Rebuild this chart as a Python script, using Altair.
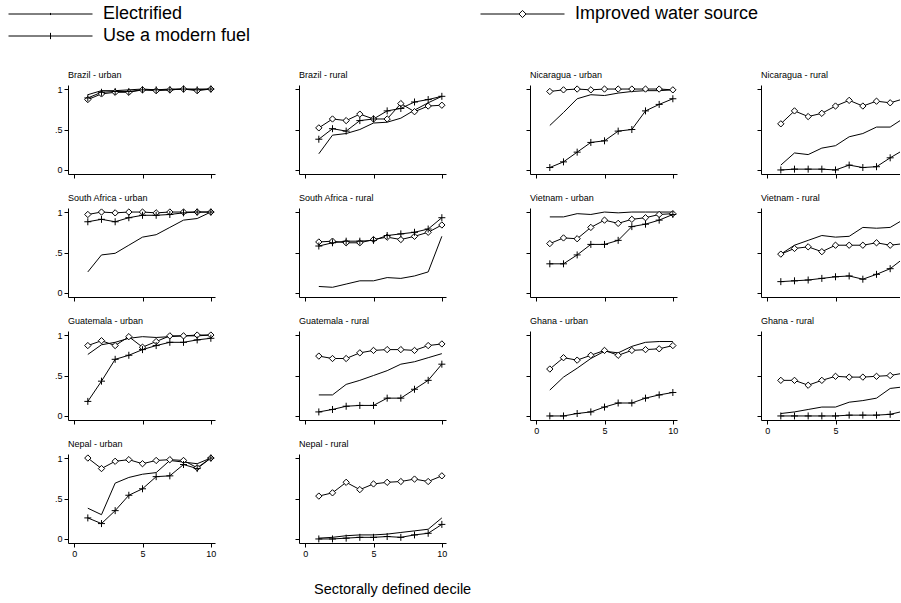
import altair as alt
import pandas as pd

deciles = list(range(1, 11))
series = ["Electrified", "Use a modern fuel", "Improved water source"]
legend_order = ["Electrified", "Improved water source", "Use a modern fuel"]

panel_order = [
    "Brazil - urban", "Brazil - rural", "Nicaragua - urban", "Nicaragua - rural",
    "South Africa - urban", "South Africa - rural", "Vietnam - urban", "Vietnam - rural",
    "Guatemala - urban", "Guatemala - rural", "Ghana - urban", "Ghana - rural",
    "Nepal - urban", "Nepal - rural",
]
bottom_panels = ["Ghana - urban", "Ghana - rural", "Nepal - urban", "Nepal - rural"]

electrified = {
    "Brazil - urban": [0.93, 0.98, 0.98, 0.99, 1.0, 0.99, 1.0, 1.0, 1.0, 1.0],
    "Brazil - rural": [0.20, 0.43, 0.45, 0.50, 0.58, 0.59, 0.64, 0.74, 0.83, 0.91],
    "Nicaragua - urban": [0.55, 0.71, 0.88, 0.93, 0.92, 0.95, 0.97, 0.98, 0.98, 0.99],
    "Nicaragua - rural": [0.06, 0.21, 0.19, 0.27, 0.30, 0.41, 0.45, 0.53, 0.53, 0.64],
    "South Africa - urban": [0.26, 0.47, 0.49, 0.59, 0.69, 0.72, 0.81, 0.90, 0.92, 1.0],
    "South Africa - rural": [0.08, 0.07, 0.11, 0.15, 0.15, 0.19, 0.18, 0.21, 0.26, 0.70],
    "Vietnam - urban": [0.94, 0.94, 0.98, 0.97, 1.0, 0.99, 1.0, 1.0, 1.0, 1.0],
    "Vietnam - rural": [0.48, 0.59, 0.65, 0.71, 0.69, 0.70, 0.81, 0.80, 0.81, 0.91],
    "Guatemala - urban": [0.76, 0.88, 0.91, 0.96, 0.98, 0.97, 0.98, 0.99, 0.99, 1.0],
    "Guatemala - rural": [0.26, 0.26, 0.39, 0.44, 0.50, 0.56, 0.64, 0.67, 0.72, 0.77],
    "Ghana - urban": [0.32, 0.48, 0.59, 0.71, 0.80, 0.78, 0.86, 0.91, 0.92, 0.92],
    "Ghana - rural": [0.03, 0.05, 0.08, 0.11, 0.11, 0.17, 0.19, 0.22, 0.34, 0.36],
    "Nepal - urban": [0.38, 0.30, 0.69, 0.76, 0.80, 0.82, 0.97, 0.95, 0.93, 1.0],
    "Nepal - rural": [0.01, 0.02, 0.04, 0.05, 0.05, 0.06, 0.08, 0.10, 0.12, 0.26],
}
modern_fuel = {
    "Brazil - urban": [0.89, 0.96, 0.97, 0.97, 0.99, 0.99, 0.99, 1.0, 0.99, 1.0],
    "Brazil - rural": [0.38, 0.51, 0.48, 0.61, 0.63, 0.73, 0.76, 0.84, 0.87, 0.91],
    "Nicaragua - urban": [0.03, 0.10, 0.22, 0.34, 0.36, 0.48, 0.50, 0.73, 0.81, 0.88],
    "Nicaragua - rural": [0.0, 0.01, 0.01, 0.01, 0.0, 0.06, 0.03, 0.04, 0.15, 0.25],
    "South Africa - urban": [0.88, 0.91, 0.88, 0.93, 0.96, 0.96, 0.97, 0.99, 1.0, 1.0],
    "South Africa - rural": [0.58, 0.62, 0.64, 0.64, 0.65, 0.71, 0.73, 0.75, 0.79, 0.93],
    "Vietnam - urban": [0.36, 0.36, 0.47, 0.60, 0.60, 0.65, 0.82, 0.85, 0.90, 0.97],
    "Vietnam - rural": [0.14, 0.15, 0.16, 0.18, 0.20, 0.21, 0.17, 0.23, 0.30, 0.43],
    "Guatemala - urban": [0.18, 0.43, 0.70, 0.75, 0.82, 0.87, 0.91, 0.91, 0.94, 0.96],
    "Guatemala - rural": [0.05, 0.08, 0.12, 0.13, 0.13, 0.22, 0.22, 0.33, 0.44, 0.64],
    "Ghana - urban": [0.0, 0.0, 0.03, 0.05, 0.11, 0.16, 0.16, 0.22, 0.26, 0.29],
    "Ghana - rural": [0.0, 0.0, 0.0, 0.0, 0.0, 0.01, 0.01, 0.01, 0.02, 0.06],
    "Nepal - urban": [0.26, 0.19, 0.35, 0.54, 0.62, 0.77, 0.78, 0.92, 0.87, 1.0],
    "Nepal - rural": [0.0, 0.0, 0.01, 0.02, 0.02, 0.03, 0.02, 0.05, 0.07, 0.18],
}
water = {
    "Brazil - urban": [0.87, 0.94, 0.96, 0.96, 0.99, 0.98, 0.99, 1.0, 0.98, 1.0],
    "Brazil - rural": [0.52, 0.63, 0.61, 0.69, 0.63, 0.63, 0.82, 0.72, 0.79, 0.80],
    "Nicaragua - urban": [0.97, 0.99, 1.0, 0.99, 1.0, 1.0, 1.0, 1.0, 1.0, 0.99],
    "Nicaragua - rural": [0.57, 0.73, 0.66, 0.70, 0.79, 0.86, 0.79, 0.85, 0.83, 0.88],
    "South Africa - urban": [0.97, 1.0, 0.99, 1.0, 1.0, 0.99, 1.0, 1.0, 1.0, 1.0],
    "South Africa - rural": [0.63, 0.64, 0.62, 0.62, 0.66, 0.69, 0.66, 0.70, 0.75, 0.84],
    "Vietnam - urban": [0.61, 0.68, 0.67, 0.81, 0.90, 0.86, 0.91, 0.93, 0.97, 0.98],
    "Vietnam - rural": [0.48, 0.55, 0.57, 0.51, 0.59, 0.59, 0.59, 0.62, 0.59, 0.61],
    "Guatemala - urban": [0.87, 0.93, 0.87, 0.98, 0.85, 0.92, 0.99, 0.99, 1.0, 1.0],
    "Guatemala - rural": [0.74, 0.71, 0.71, 0.78, 0.81, 0.82, 0.82, 0.81, 0.87, 0.89],
    "Ghana - urban": [0.58, 0.72, 0.69, 0.75, 0.81, 0.75, 0.81, 0.82, 0.83, 0.87],
    "Ghana - rural": [0.44, 0.44, 0.38, 0.44, 0.49, 0.48, 0.48, 0.49, 0.50, 0.53],
    "Nepal - urban": [1.0, 0.87, 0.96, 0.98, 0.93, 0.97, 0.98, 0.97, 0.88, 1.0],
    "Nepal - rural": [0.53, 0.57, 0.70, 0.61, 0.68, 0.70, 0.71, 0.74, 0.71, 0.78],
}

rows = []
for name, table in zip(series, [electrified, modern_fuel, water]):
    for panel_name, vals in table.items():
        for d, v in zip(deciles, vals):
            rows.append({"panel": panel_name, "decile": d, "series": name, "value": v})
df = pd.DataFrame(rows)

FONT = "Liberation Sans"
PLUS = "M-1,0H1M0,-1V1"
PX_PER_UNIT = 13.67
legend_expr = (
    "datum.value == 'Improved water source' ? "
    "'M-1,0H-0.085M0.085,0H1M-0.085,0L0,-0.085L0.085,0L0,0.085Z' : "
    "(datum.value == 'Use a modern fuel' ? 'M-1,0H1M0,-0.075V0.075' : 'M-1,0H1M0,-0.025V0.025')"
)


def make_panel(idx, name):
    col = idx % 4
    w = 147 if col < 3 else 139
    xmax = -0.45 + w / PX_PER_UNIT
    bottom = name in bottom_panels
    d = df[df["panel"] == name]
    x = alt.X(
        "decile:Q",
        scale=alt.Scale(domain=[-0.45, xmax], nice=False, zero=False),
        axis=alt.Axis(values=[0, 5, 10], labels=bottom, title=None, grid=False),
    )
    y = alt.Y(
        "value:Q",
        scale=alt.Scale(domain=[-0.05, 1.05], nice=False, zero=False),
        axis=alt.Axis(
            values=[0, 0.5, 1], labels=(col == 0), title=None, grid=False,
            labelExpr="datum.value == 0.5 ? '.5' : (datum.value == 1 ? '1' : '0')",
        ),
    )
    if idx == 0:
        legend = alt.Legend(
            title=None, orient="none", legendX=-60, legendY=-81,
            direction="horizontal", columns=2, columnPadding=229, rowPadding=2,
            symbolSize=7056, symbolType=alt.ExprRef(expr=legend_expr),
            symbolStrokeColor="black", symbolFillColor="white", symbolStrokeWidth=1,
            labelFont=FONT, labelFontSize=18, labelColor="black", labelOffset=10,
            labelLimit=400, clipHeight=20,
        )
    else:
        legend = None
    base = alt.Chart(d)
    lines = base.mark_line(strokeWidth=1, clip=True).encode(
        x=x, y=y,
        color=alt.Color(
            "series:N",
            scale=alt.Scale(domain=legend_order, range=["black", "black", "black"]),
            legend=legend,
        ),
    )
    diamonds = base.transform_filter(
        alt.datum.series == "Improved water source"
    ).mark_point(
        shape="diamond", size=40, filled=True, fill="white", stroke="black",
        strokeWidth=1, opacity=1, clip=True,
    ).encode(x=x, y=y)
    pluses = base.transform_filter(
        alt.datum.series == "Use a modern fuel"
    ).mark_point(
        shape=PLUS, size=49, filled=False, stroke="black", strokeWidth=1,
        opacity=1, clip=True,
    ).encode(x=x, y=y)
    return alt.layer(lines, diamonds, pluses).properties(
        width=w, height=89,
        title=alt.TitleParams(
            name, anchor="start", frame="group", fontSize=9, font=FONT,
            fontWeight="normal", color="black", offset=5,
        ),
    )


panels = [make_panel(i, n) for i, n in enumerate(panel_order)]

chart = alt.concat(
    *panels, columns=4, spacing={"row": 34, "column": 84}, bounds="flush"
).properties(
    title=alt.TitleParams(
        "Sectorally defined decile", orient="bottom", anchor="start", dx=306,
        offset=25, fontSize=14.5, font=FONT, fontWeight="normal", color="black",
    ),
    padding={"left": 8, "top": 4, "right": 0, "bottom": 0},
).configure_view(
    stroke=None
).configure_axis(
    domainColor="black", domainWidth=1, tickColor="black", tickWidth=1, tickSize=4,
    labelFont=FONT, labelFontSize=9, labelColor="black", labelPadding=2,
)

chart.save("out.html", embed_options={"renderer": "svg", "actions": False})
